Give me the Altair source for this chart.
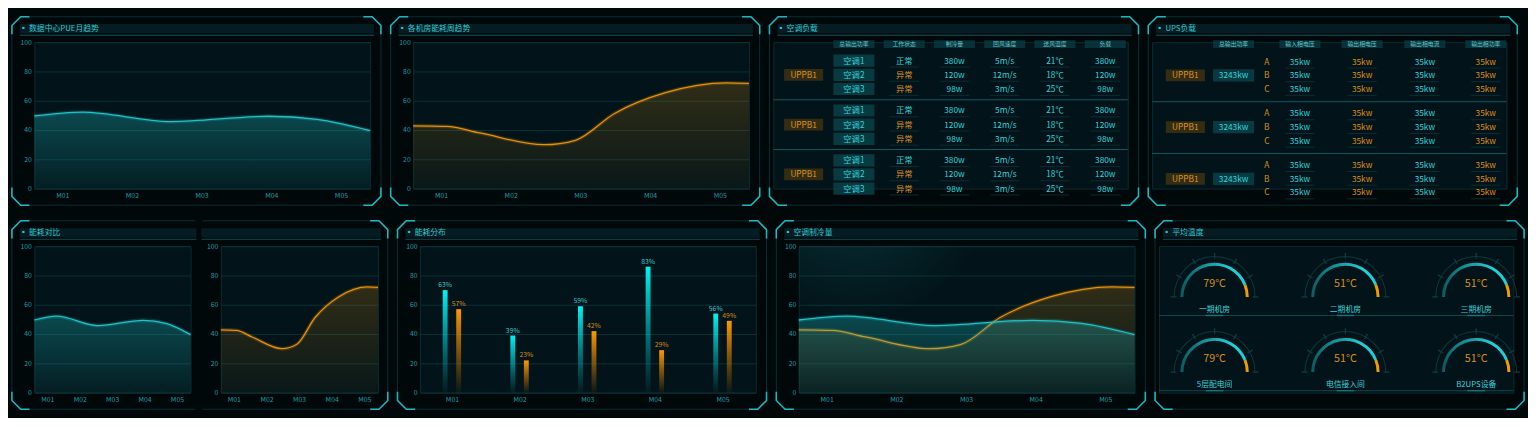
import altair as alt
import pandas as pd

# ---------------- data ----------------
months = ["M01", "M02", "M03", "M04", "M05"]
month_ticks = [1, 2, 3, 4, 5]
y_ticks = [0, 20, 40, 60, 80, 100]

# 数据中心PUE月趋势 (cyan curve, read along the month axis)
pue_pos = [0.6, 1.29, 2.55, 3.96, 4.66, 5.42]
pue_val = [49.6, 52.2, 45.8, 49.4, 47.3, 39.6]

# 各机房能耗周趋势 (orange curve)
room_pos = [0.6, 1.08, 1.56, 2.48, 2.93, 3.49, 4.22, 5.10, 5.42]
room_val = [42.9, 42.5, 38.0, 30.0, 33.0, 51.3, 65.5, 72.2, 71.8]

# 能耗分布
bar_cyan = [70, 39, 59, 86, 54]
bar_orange = [57, 22, 42, 29, 49]
pct_cyan = ["63%", "39%", "59%", "83%", "56%"]
pct_orange = ["57%", "23%", "42%", "29%", "49%"]

# 空调负载
ac_headers = ["总输出功率", "工作状态", "制冷量", "回风速度", "送风温度", "负载"]
ac_groups = ["UPPB1", "UPPB1", "UPPB1"]
ac_units = ["空调1", "空调2", "空调3"]
ac_status = ["正常", "异常", "异常"]
ac_cool = ["380w", "120w", "98w"]
ac_wind = ["5m/s", "12m/s", "3m/s"]
ac_temp = ["21℃", "18℃", "25℃"]
ac_load = ["380w", "120w", "98w"]

# UPS负载
ups_headers = ["总输出功率", "输入相电压", "输出相电压", "输出相电流", "输出相功率"]
ups_groups = ["UPPB1", "UPPB1", "UPPB1"]
ups_total = ["3243kw", "3243kw", "3243kw"]
ups_phases = ["A", "B", "C"]
ups_in_v = ["35kw", "35kw", "35kw"]
ups_out_v = ["35kw", "35kw", "35kw"]
ups_out_i = ["35kw", "35kw", "35kw"]
ups_out_p = ["35kw", "35kw", "35kw"]

# 平均温度
gauge_names = ["一期机房", "二期机房", "三期机房", "5层配电间", "电信接入间", "B2UPS设备"]
gauge_temps = [79, 51, 51, 79, 51, 51]
gauge_warn = 0.88  # orange band starts here (fraction of the dial)

# ---------------- style ----------------
BG = "#01080a"
PANEL = "#021419"
GRID = "#0a3237"
CYAN = "#1ec3c9"
BRIGHT = "#2fd3d9"
AXIS_TXT = "#1a9ea5"
ORANGE = "#e8900c"
FONT = "Noto Sans CJK SC"
X_DOM = [0.6, 5.42]
H = 150
FRAME_T, FRAME_B, CUT = 26, 17, 9

one = pd.DataFrame({"k": [0]})


def vgrad(top, bottom):
    return alt.Gradient(
        gradient="linear", x1=0, x2=0, y1=0, y2=1,
        stops=[alt.GradientStop(color=top, offset=0),
               alt.GradientStop(color=bottom, offset=1)])


# panel frame: dim outline, cyan corner brackets, title bar
def deco(w, L, R, left=True, right=True):
    x0, x1, y0, y1 = -L, w + R, -FRAME_T, H + FRAME_B
    a = CUT if left else 0
    b = CUT if right else 0
    edges = [[(x0 + a, y0), (x1 - b, y0)], [(x0 + a, y1), (x1 - b, y1)]]
    brackets = []
    if left:
        edges.append([(x0, y0 + CUT), (x0, y1 - CUT)])
        brackets.append([(x0 + 2 * CUT, y0), (x0 + CUT, y0), (x0, y0 + CUT), (x0, y0 + 2 * CUT)])
        brackets.append([(x0, y1 - 2 * CUT), (x0, y1 - CUT), (x0 + CUT, y1), (x0 + 2 * CUT, y1)])
    if right:
        edges.append([(x1, y0 + CUT), (x1, y1 - CUT)])
        brackets.append([(x1 - 2 * CUT, y0), (x1 - CUT, y0), (x1, y0 + CUT), (x1, y0 + 2 * CUT)])
        brackets.append([(x1, y1 - 2 * CUT), (x1, y1 - CUT), (x1 - CUT, y1), (x1 - 2 * CUT, y1)])

    def draw(polys, color, width):
        rows = [{"seg": s, "ord": k, "px": px, "py": py}
                for s, poly in enumerate(polys) for k, (px, py) in enumerate(poly)]
        return alt.Chart(pd.DataFrame(rows)).mark_line(color=color, strokeWidth=width).encode(
            x=alt.X("px:Q", scale=None, axis=None), y=alt.Y("py:Q", scale=None, axis=None),
            detail="seg:N", order="ord:Q")

    bx0 = x0 + 8 if left else x0 - 1
    bx1 = x1 - 7 if right else x1 + 1
    bar = alt.Chart(one).mark_rect(color="#041c22").encode(
        x=alt.value(bx0), x2=alt.value(bx1), y=alt.value(-18.5), y2=alt.value(-9))
    under = alt.Chart(one).mark_rule(color="#0b3c43", strokeWidth=1.5).encode(
        x=alt.value(bx0), x2=alt.value(bx1), y=alt.value(-7))
    return [draw(edges, "#0a2e34", 1), draw(brackets, "#19b9c3", 1.6), bar, under]


def glow(w, cx, cy):
    return alt.Chart(one).mark_rect(color=alt.Gradient(
        gradient="radial", x1=cx, y1=cy, r1=0, x2=cx, y2=cy, r2=0.4,
        stops=[alt.GradientStop(color="rgba(20,120,130,0.30)", offset=0),
               alt.GradientStop(color="rgba(20,120,130,0)", offset=1)])).encode(
        x=alt.value(0), x2=alt.value(w), y=alt.value(0), y2=alt.value(H))


x_axis = alt.Axis(values=month_ticks, labelExpr="'M0' + datum.value", title=None,
                  grid=False, labelPadding=3, labelFlush=False)
y_axis = alt.Axis(values=y_ticks, title=None, grid=True, labelPadding=3)


def curve(pos, val, color, top, bottom):
    df = pd.DataFrame({"pos": pos, "val": val})
    base = alt.Chart(df).encode(
        x=alt.X("pos:Q", scale=alt.Scale(domain=X_DOM, nice=False, zero=False), axis=x_axis),
        y=alt.Y("val:Q", scale=alt.Scale(domain=[0, 100], nice=False), axis=y_axis))
    area = base.mark_area(interpolate="monotone", color=vgrad(top, bottom))
    halo = base.mark_line(interpolate="monotone", color=color, strokeWidth=4, opacity=0.2)
    line = base.mark_line(interpolate="monotone", color=color, strokeWidth=1.3)
    return [area, halo, line]


def cyan_curve():
    return curve(pue_pos, pue_val, CYAN, "rgba(30,195,201,0.30)", "rgba(30,195,201,0.06)")


def orange_curve():
    return curve(room_pos, room_val, ORANGE, "rgba(232,144,12,0.20)", "rgba(232,144,12,0.03)")


# ---- panels: line charts ----
p1 = alt.layer(*deco(344, 23, 11), *cyan_curve()).properties(
    width=344, height=H, title="▪ 数据中心PUE月趋势")
p2 = alt.layer(*deco(344, 23, 11), *orange_curve()).properties(
    width=344, height=H, title="▪ 各机房能耗周趋势")
p7 = alt.layer(*deco(344, 23, 11), glow(344, 0.17, 0.1), *orange_curve(), *cyan_curve()).properties(
    width=344, height=H, title="▪ 空调制冷量")
p5 = alt.hconcat(
    alt.layer(*deco(160, 23, 5, right=False), *cyan_curve()).properties(
        width=160, height=H, title="▪ 能耗对比"),
    alt.layer(*deco(161, 19, 10, left=False), *orange_curve()).properties(width=161, height=H),
    spacing=0)

# ---- bar chart ----
bars_a = pd.DataFrame({"idx": month_ticks, "val": bar_cyan, "pct": pct_cyan})
bars_b = pd.DataFrame({"idx": month_ticks, "val": bar_orange, "pct": pct_orange})


def bar_layers(df, shift, top, bottom, txt):
    base = alt.Chart(df).transform_calculate(xpos=f"datum.idx + ({shift})").encode(
        x=alt.X("xpos:Q", scale=alt.Scale(domain=X_DOM, nice=False, zero=False), axis=x_axis),
        y=alt.Y("val:Q", scale=alt.Scale(domain=[0, 100], nice=False), axis=y_axis))
    bar = base.mark_bar(size=5, orient="vertical", color=vgrad(top, bottom))
    lab = base.mark_text(baseline="bottom", dy=-2, fontSize=7, color=txt).encode(text="pct:N")
    return [bar, lab]


p6 = alt.layer(
    *deco(344, 23, 11),
    *bar_layers(bars_a, -0.1, "#00f4f4", "rgba(0,200,210,0.04)", "#3cc3ca"),
    *bar_layers(bars_b, 0.1, "#ff9800", "rgba(230,130,0,0.04)", "#d68c1c"),
).properties(width=344, height=H, title="▪ 能耗分布")

# ---- tables ----
TW = 363
tone = alt.Color("tone:N", scale=alt.Scale(domain=["c", "o"], range=[BRIGHT, "#de9020"]), legend=None)


def ty(field="y"):
    return alt.Y(f"{field}:Q", scale=alt.Scale(domain=[0, H], reverse=True, nice=False, zero=False), axis=None)


def table_layers(head, grp, box, cells, sep, xenc, box_col):
    return [
        alt.Chart(sep).mark_rule(color="#0f5c62", strokeWidth=1).encode(y=ty()),
        alt.Chart(head).mark_tick(orient="horizontal", size=42, thickness=8, color="#0a3a41",
                                  opacity=0.8).encode(x=xenc, y=ty()),
        alt.Chart(head).mark_text(fontSize=6, color="#6ac3c8").encode(x=xenc, y=ty(), text="text:N"),
        alt.Chart(grp).mark_tick(orient="horizontal", size=40, thickness=12, color="#4a3812").encode(x=xenc, y=ty()),
        alt.Chart(grp).mark_text(fontSize=8.5, color="#df9522").encode(x=xenc, y=ty(), text="text:N"),
        alt.Chart(box).mark_tick(orient="horizontal", size=42, thickness=12.5, color=box_col).encode(x=xenc, y=ty()),
        alt.Chart(box).mark_text(fontSize=8.5, color=BRIGHT).encode(x=xenc, y=ty(), text="text:N"),
        alt.Chart(cells).mark_tick(orient="horizontal", size=30, thickness=1, color="#0c3a40").encode(
            x=xenc, y=ty("uy")),
        alt.Chart(cells).mark_text(fontSize=8.5).encode(x=xenc, y=ty(), text="text:N", color=tone),
    ]


# 空调负载: column index -> evenly spaced
ac_x = alt.X("ci:Q", scale=alt.Scale(domain=[-0.602, 6.447], nice=False, zero=False), axis=None)
ac_head = pd.DataFrame({"ci": [1, 2, 3, 4, 5, 6], "y": 2, "text": ac_headers})
ac_grp, ac_unit, ac_cell, ac_sep = [], [], [], []
for g in range(3):
    ac_grp.append({"ci": 0, "y": 19 + g * 51 + 14.5, "text": ac_groups[g]})
    if g < 2:
        ac_sep.append({"y": 19 + g * 51 + 40})
    for r in range(3):
        y = 19 + g * 51 + r * 14.5
        ac_unit.append({"ci": 1, "y": y, "text": ac_units[r]})
        ac_cell.append({"ci": 2, "y": y, "text": ac_status[r],
                        "tone": "o" if ac_status[r] == "异常" else "c"})
        for ci, vals in zip([3, 4, 5, 6], [ac_cool, ac_wind, ac_temp, ac_load]):
            ac_cell.append({"ci": ci, "y": y, "text": vals[r], "tone": "c"})
ac_grp, ac_unit = pd.DataFrame(ac_grp), pd.DataFrame(ac_unit)
ac_cell, ac_sep = pd.DataFrame(ac_cell), pd.DataFrame(ac_sep)
ac_cell["uy"] = ac_cell["y"] + 6.5

p3 = alt.layer(
    *deco(TW, 4, 11),
    *table_layers(ac_head, ac_grp, ac_unit, ac_cell, ac_sep, ac_x, "#0c4c52"),
).properties(width=TW, height=H, title="▪ 空调负载")

# UPS负载: column slots (group, total, phase, four readings)
UPS_SLOT = {"g": 0, "t": 0.8, "ph": 1.35, "v1": 1.9, "v2": 2.93, "v3": 3.97, "v4": 4.98}
ups_x = alt.X("ci:Q", scale=alt.Scale(domain=[-0.55, 5.324], nice=False, zero=False), axis=None)
ups_head = pd.DataFrame({"ci": [UPS_SLOT[k] for k in ["t", "v1", "v2", "v3", "v4"]],
                         "y": 2, "text": ups_headers})
u_grp, u_box, u_cell, u_sep, u_ph = [], [], [], [], []
for g in range(3):
    mid = 20 + g * 53 + 14
    u_grp.append({"ci": UPS_SLOT["g"], "y": mid, "text": ups_groups[g]})
    u_box.append({"ci": UPS_SLOT["t"], "y": mid, "text": ups_total[g]})
    if g < 2:
        u_sep.append({"y": 20 + g * 53 + 41})
    for r in range(3):
        y = 20 + g * 53 + r * 14
        u_ph.append({"ci": UPS_SLOT["ph"], "y": y, "text": ups_phases[r]})
        for key, vals, t in zip(["v1", "v2", "v3", "v4"], [ups_in_v, ups_out_v, ups_out_i, ups_out_p],
                                ["c", "o", "c", "o"]):
            u_cell.append({"ci": UPS_SLOT[key], "y": y, "text": vals[r], "tone": t})
u_grp, u_box, u_cell = pd.DataFrame(u_grp), pd.DataFrame(u_box), pd.DataFrame(u_cell)
u_sep, u_ph = pd.DataFrame(u_sep), pd.DataFrame(u_ph)
u_cell["uy"] = u_cell["y"] + 6.5

p4 = alt.layer(
    *deco(TW, 4, 11),
    *table_layers(ups_head, u_grp, u_box, u_cell, u_sep, ups_x, "#0b4c53"),
    alt.Chart(u_ph).mark_text(fontSize=8.5, color="#de9020").encode(x=ups_x, y=ty(), text="text:N"),
).properties(width=TW, height=H, title="▪ UPS负载")

# ---- gauges ----
gdf = pd.DataFrame({
    "col": [0, 1, 2, 0, 1, 2], "row": [0, 0, 0, 1, 1, 1],
    "name": gauge_names, "temp": [f"{t}°C" for t in gauge_temps]})
gdf["sy"] = gdf["row"] + 0.247
gx = alt.X("col:Q", scale=alt.Scale(domain=[-0.425, 2.284], nice=False, zero=False), axis=None)
gy_scale = alt.Scale(domain=[-0.675, 1.273], reverse=True, nice=False, zero=False)
gy = alt.Y("row:Q", scale=gy_scale, axis=None)
th_scale = alt.Scale(domain=[0, 1], range=[4.712389, 7.853982])


def dial(t0, t1, r_out, r_in, color):
    return alt.Chart(gdf).transform_calculate(t0=str(t0), t1=str(t1)).mark_arc(
        radius=r_out, radius2=r_in, color=color).encode(
        x=gx, y=gy, theta=alt.Theta("t0:Q", scale=th_scale, stack=False), theta2="t1:Q")


tick_df = pd.DataFrame([{"col": c, "row": r, "k": k}
                        for c, r in zip(gdf["col"], gdf["row"]) for k in range(7)])
ticks = alt.Chart(tick_df).transform_calculate(
    t0="datum.k / 6 - 0.005", t1="datum.k / 6 + 0.005").mark_arc(
    radius=45, radius2=39, color="#0d3d43").encode(
    x=gx, y=gy, theta=alt.Theta("t0:Q", scale=th_scale, stack=False), theta2="t1:Q")

sep_df = pd.DataFrame({"sy": [0.247, 1.247]})

p8 = alt.layer(
    *deco(TW, 4, 11),
    alt.Chart(sep_df).mark_rule(color="#0d4a50").encode(y=alt.Y("sy:Q", scale=gy_scale, axis=None)),
    alt.Chart(gdf).mark_tick(orient="horizontal", size=18, thickness=1.5, color="#1a8c92").encode(
        x=gx, y=alt.Y("sy:Q", scale=gy_scale, axis=None)),
    dial(0, 1, 42, 41, "#0b3a40"),
    ticks,
    dial(0, 1, 35, 32, "#06262b"),
    dial(0, gauge_warn, 35, 32, alt.Gradient(
        gradient="linear", x1=0, x2=1, y1=0, y2=0,
        stops=[alt.GradientStop(color="#0a5a60", offset=0),
               alt.GradientStop(color="#1bd0d6", offset=0.75)])),
    dial(gauge_warn, 1, 35, 32, "#f29a00"),
    alt.Chart(gdf).mark_text(dy=-13, fontSize=11, color="#d98d1e").encode(x=gx, y=gy, text="temp:N"),
    alt.Chart(gdf).mark_text(dy=13, fontSize=8, color=BRIGHT).encode(x=gx, y=gy, text="name:N"),
).properties(width=TW, height=H, title="▪ 平均温度")

# ---------------- compose ----------------
row1 = alt.hconcat(p1, p2, p3, p4, spacing=2)
row2 = alt.hconcat(p5, p6, p7, p8, spacing=2)

chart = (alt.vconcat(row1, row2, spacing=8)
         .properties(background=BG, padding={"left": 0, "top": 0, "right": 0, "bottom": 0})
         .configure(font=FONT)
         .configure_view(fill=PANEL, stroke="#0a2c31", strokeWidth=1)
         .configure_axis(labelColor=AXIS_TXT, labelFont=FONT, labelFontSize=7, domain=False,
                         ticks=False, gridColor=GRID, gridWidth=1)
         .configure_title(font=FONT, fontSize=8, color="#2cc6cd", anchor="start", frame="bounds",
                          offset=-20, dx=11, fontWeight="normal")
         .configure_text(font=FONT)
         )

chart.save("out.html", embed_options={"renderer": "svg", "actions": False})
